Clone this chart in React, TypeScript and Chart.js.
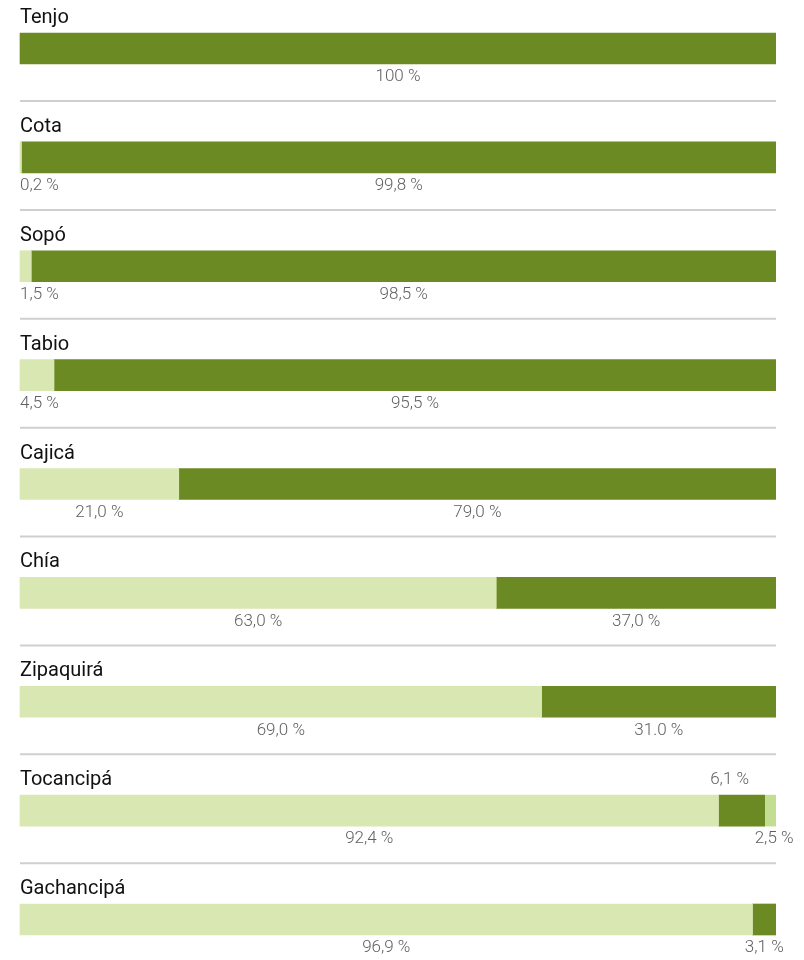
import React, { useEffect, useRef } from "react";
import { Chart, registerables } from "chart.js";

Chart.register(...registerables);

const municipalities = ["Tenjo", "Cota", "Sopó", "Tabio", "Cajicá", "Chía", "Zipaquirá", "Tocancipá", "Gachancipá"];
const lightValues = [0, 0.2, 1.5, 4.5, 21.0, 63.0, 69.0, 92.4, 96.9];
const darkValues = [100, 99.8, 98.5, 95.5, 79.0, 37.0, 31.0, 6.1, 3.1];
const extraValues = [0, 0, 0, 0, 0, 0, 0, 2.5, 0];
const lightLabels = ["", "0,2 %", "1,5 %", "4,5 %", "21,0 %", "63,0 %", "69,0 %", "92,4 %", "96,9 %"];
const darkLabels = ["100 %", "99,8 %", "98,5 %", "95,5 %", "79,0 %", "37,0 %", "31.0 %", "6,1 %", "3,1 %"];
const extraLabels = ["", "", "", "", "", "", "", "2,5 %", ""];

const DARK = "#6b8a23";
const LIGHT = "#d9e7b2";
const EXTRA = "#c3de93";

const rowPlugin = {
  id: "rowDecor",
  afterDatasetsDraw(chart: any) {
    const { ctx, chartArea } = chart;
    const labelSets = [lightLabels, darkLabels, extraLabels];
    const values = [lightValues, darkValues, extraValues];
    const meta1 = chart.getDatasetMeta(1);
    const n = municipalities.length;
    ctx.save();
    for (let i = 0; i < n; i++) {
      const bar = meta1.data[i];
      const top = bar.y - 15.5;
      const bottom = bar.y + 15.5;
      // title
      ctx.font = "400 20px Roboto, 'Noto Sans', sans-serif";
      ctx.fillStyle = "#111";
      ctx.textAlign = "left";
      ctx.textBaseline = "middle";
      ctx.fillText(municipalities[i], chartArea.left, top - 15);
      // separator
      if (i < n - 1) {
        ctx.strokeStyle = "#cfcfcf";
        ctx.lineWidth = 2;
        ctx.beginPath();
        ctx.moveTo(chartArea.left, bottom + 37);
        ctx.lineTo(chartArea.right, bottom + 37);
        ctx.stroke();
      }
      // segment labels
      const nonzero = [lightValues[i], darkValues[i], extraValues[i]].filter((v) => v > 0).length;
      ctx.font = "300 17px Roboto, 'Noto Sans', sans-serif";
      ctx.fillStyle = "#5f5f5f";
      for (let d = 0; d < 3; d++) {
        const text = labelSets[d][i];
        if (!text || !values[d][i]) continue;
        const el = chart.getDatasetMeta(d).data[i];
        if (!el) continue;
        const x0 = Math.min(el.base, el.x);
        const x1 = Math.max(el.base, el.x);
        let cx = (x0 + x1) / 2;
        const w = ctx.measureText(text).width;
        if (cx - w / 2 < chartArea.left) cx = chartArea.left + w / 2;
        const above = nonzero === 3 && d === 1;
        const y = above ? top - 15 : bottom + 13;
        ctx.textAlign = "center";
        ctx.fillText(text, above ? cx - 12 : cx, y);
      }
    }
    ctx.restore();
  },
};

export default function App() {
  const ref = useRef<HTMLCanvasElement>(null);
  useEffect(() => {
    document.body.style.margin = "0";
    const clip = { left: false, top: false, right: 0, bottom: false } as any;
    const nz = (arr: number[]) => arr.map((v) => (v > 0 ? v : null));
    const chart = new Chart(ref.current!, {
      type: "bar",
      data: {
        labels: municipalities,
        datasets: [
          { data: nz(lightValues), backgroundColor: LIGHT, barThickness: 31, clip },
          { data: nz(darkValues), backgroundColor: DARK, barThickness: 31, clip },
          { data: nz(extraValues), backgroundColor: EXTRA, barThickness: 31, clip },
        ],
      },
      options: {
        indexAxis: "y",
        responsive: false,
        animation: false,
        layout: { padding: { left: 20, right: 28, top: 48.5, bottom: 40.5 } },
        plugins: { legend: { display: false }, tooltip: { enabled: false } },
        scales: {
          x: { stacked: true, min: 0, max: 100, display: false },
          y: { stacked: true, display: false, offset: false, grid: { display: false } },
        },
      },
      plugins: [rowPlugin],
    });
    return () => chart.destroy();
  }, []);
  return (
    <div style={{ width: 804, height: 960 }}>
      <canvas ref={ref} width={804} height={960} />
    </div>
  );
}
